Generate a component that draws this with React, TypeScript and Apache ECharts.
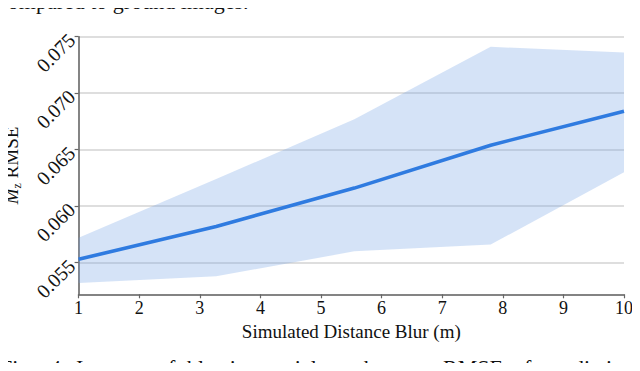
import React, { useEffect, useRef } from 'react';
import * as echarts from 'echarts';

// ---- data ----
const blurX = [1, 3.27, 5.55, 7.8, 10];
const meanRmse = [0.0553, 0.0582, 0.0616, 0.0654, 0.0684];
const bandUpper = [0.0572, 0.0624, 0.0677, 0.0741, 0.0736];
const bandLower = [0.0532, 0.0538, 0.0560, 0.0566, 0.0630];
const yTickValues = [0.055, 0.06, 0.065, 0.07, 0.075];
const xAxisTitle = 'Simulated Distance Blur (m)';
const yAxisTitleItalic = 'M';
const yAxisTitleSub = 'z';
const yAxisTitleRest = ' RMSE';
const topText = 'compared to ground images.';
const captionWords = ['Fig.', '4:', 'Impact', 'of', 'blurring', 'aerial', 'patches', 'on', 'RMSE', 'of', 'prediction'];

// ---- layout (not data) ----
const captionX = [0, 50, 76, 157, 187, 268, 327, 410, 443, 513, 545];
const FONT = 'Liberation Serif';

export default function App() {
  const ref = useRef<HTMLDivElement>(null);

  useEffect(() => {
    if (!ref.current) return;
    const chart = echarts.init(ref.current, null, { renderer: 'svg' });

    const isTick = (v: number) => yTickValues.some((t) => Math.abs(t - v) < 1e-7);

    const graphics: any[] = [
      {
        type: 'text',
        x: -2,
        y: -10,
        silent: true,
        style: { text: topText, fontFamily: FONT, fontSize: 22, fill: '#111' },
      },
      ...captionWords.map((w, i) => ({
        type: 'text',
        x: captionX[i],
        y: 356,
        silent: true,
        style: { text: w, fontFamily: FONT, fontSize: 22, fill: '#111' },
      })),
    ];

    chart.setOption({
      animation: false,
      backgroundColor: '#fff',
      grid: {
        left: 78.6,
        right: 16,
        top: 36.7,
        bottom: 76.7,
        containLabel: false,
        outerBoundsMode: 'none',
      },
      xAxis: {
        type: 'value',
        min: 1,
        max: 10,
        interval: 1,
        name: xAxisTitle,
        nameLocation: 'middle',
        nameGap: 24,
        nameTextStyle: { fontFamily: FONT, fontSize: 19, color: '#111' },
        axisLine: { show: true, lineStyle: { color: '#666', width: 1.6 } },
        axisTick: { show: true, inside: false, length: 4, lineStyle: { color: '#666', width: 1.2 } },
        axisLabel: { fontFamily: FONT, fontSize: 18, color: '#111', margin: 5 },
        splitLine: { show: false },
      },
      yAxis: {
        type: 'value',
        min: 0.0522,
        max: 0.075,
        name: `{i|${yAxisTitleItalic}}{s|${yAxisTitleSub}}{n|${yAxisTitleRest}}`,
        nameLocation: 'middle',
        nameGap: 56,
        nameTextStyle: {
          fontFamily: FONT,
          fontSize: 19,
          color: '#111',
          rich: {
            i: { fontFamily: FONT, fontSize: 19, fontStyle: 'italic', color: '#111', lineHeight: 22 },
            s: { fontFamily: FONT, fontSize: 12, color: '#111', lineHeight: 22, verticalAlign: 'bottom', padding: [8, 0, 0, 0] },
            n: { fontFamily: FONT, fontSize: 19, color: '#111', lineHeight: 22 },
          },
        },
        axisLine: { show: true, lineStyle: { color: '#666', width: 1.6 } },
        axisTick: { show: true, inside: false, length: 4, lineStyle: { color: '#666', width: 1.2 } },
        axisLabel: {
          fontFamily: FONT,
          fontSize: 20,
          color: '#111',
          rotate: 45,
          margin: 7,
          showMinLabel: false,
          formatter: (v: number) => (isTick(v) ? v.toFixed(3) : ''),
        },
        splitLine: { show: true, lineStyle: { color: '#d3d3d3', width: 1.5 } },
      },
      series: [
        {
          type: 'custom',
          name: 'band',
          silent: true,
          z: 1,
          data: blurX.map((x, i) => [x, bandLower[i], bandUpper[i]]),
          encode: { x: 0, y: [1, 2] },
          renderItem: (params: any, api: any) => {
            if (params.dataIndex !== 0) return null;
            const pts: number[][] = [];
            for (let i = 0; i < blurX.length; i++) pts.push(api.coord([blurX[i], bandUpper[i]]));
            for (let i = blurX.length - 1; i >= 0; i--) pts.push(api.coord([blurX[i], bandLower[i]]));
            return {
              type: 'polygon',
              shape: { points: pts },
              style: { fill: 'rgba(115, 162, 230, 0.3)', stroke: 'none' },
            };
          },
        },
        {
          type: 'line',
          name: 'mean',
          z: 3,
          data: blurX.map((x, i) => [x, meanRmse[i]]),
          showSymbol: false,
          smooth: false,
          lineStyle: { color: '#2f7be0', width: 3.6 },
          itemStyle: { color: '#2f7be0' },
        },
      ],
      graphic: graphics,
    });

    return () => chart.dispose();
  }, []);

  return <div ref={ref} style={{ width: 640, height: 371, margin: -8 }} />;
}
